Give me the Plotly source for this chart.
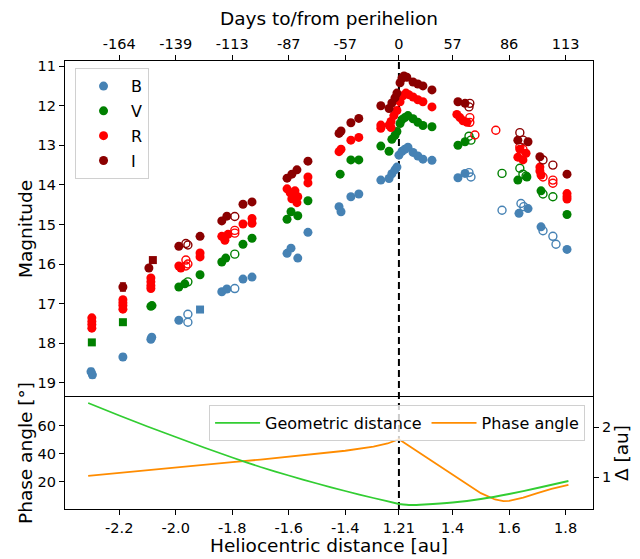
import plotly.graph_objects as go

# ---------------- data ----------------
PERI = 1.21  # perihelion distance [au]; pre-perihelion distances stored as negative values

# Photometry: r (signed heliocentric distance), magnitude, kind (f=filled, o=open, s=square), error
B_r = [-2.300, -2.295, -2.187, -2.088, -2.085, -1.989, -1.837, -1.819, -1.762, -1.730,
       -1.606, -1.592, -1.568, -1.532, -1.422, -1.415, -1.380, -1.352, -1.274, -1.245,
       -1.235, -1.224, -1.217, 1.210, 1.221, 1.231, 1.242, 1.260, 1.277, 1.295, 1.327,
       1.419, 1.444, 1.635, 1.667, 1.713, 1.805,
       -1.957, -1.957, -1.791, 1.458, 1.465, 1.575, 1.642, 1.652, 1.720, 1.755, 1.766,
       -1.914]
B_mag = [18.72, 18.80, 18.35, 17.90, 17.85, 17.42, 16.70, 16.63, 16.38, 16.33,
         15.73, 15.60, 15.85, 15.20, 14.55, 14.68, 14.30, 14.23, 13.88, 13.84,
         13.72, 13.62, 13.55, 13.25, 13.15, 13.10, 13.05, 13.18, 13.27, 13.35, 13.38,
         13.82, 13.71, 14.72, 14.60, 15.06, 15.63,
         17.27, 17.47, 16.62, 13.69, 13.80, 14.64, 14.47, 14.55, 15.16, 15.30, 15.50,
         17.15]
B_kind = ['f'] * 37 + ['o'] * 11 + ['s']
B_err = [0.08, 0.08, 0.07] + [0] * 46

V_r = [-2.297, -2.187,
       -2.088, -2.084, -1.989, -1.968, -1.914, -1.837, -1.823, -1.762, -1.730, -1.606,
       -1.592, -1.568, -1.532, -1.418, -1.380, -1.352, -1.274, -1.245, -1.235, -1.224,
       -1.217, 1.214, 1.221, 1.231, 1.242, 1.260, 1.277, 1.295, 1.327, 1.419, 1.444,
       1.631, 1.663, 1.713, 1.805,
       -1.957, -1.791, 1.458, 1.465, 1.575, 1.638, 1.649, 1.660, 1.720, 1.755]
V_mag = [17.98, 17.47,
         17.07, 17.05, 16.58, 16.50, 16.27, 15.95, 15.85, 15.50, 15.35, 14.87,
         14.68, 14.78, 14.40, 13.73, 13.37, 13.37, 13.02, 13.15, 12.85, 12.75,
         12.65, 12.45, 12.35, 12.30, 12.25, 12.33, 12.42, 12.50, 12.53, 13.00, 12.91,
         13.88, 13.80, 14.15, 14.75,
         16.45, 15.75, 12.77, 12.87, 13.71, 13.58, 13.73, 13.78, 14.23, 14.30]
V_kind = ['s'] * 2 + ['f'] * 35 + ['o'] * 10
V_err = [0.05, 0.05] + [0] * 45

R_r = [-2.297, -2.297, -2.297, -2.297, -2.187, -2.187, -2.187, -2.187, -2.088, -2.088,
       -2.088, -2.088, -1.989, -1.982, -1.914, -1.914, -1.837, -1.826, -1.815, -1.762,
       -1.730, -1.730, -1.606, -1.595, -1.578, -1.568, -1.589, -1.571, -1.532, -1.532,
       -1.422, -1.415, -1.380, -1.352, -1.274, -1.274, -1.245, -1.238, -1.238, -1.228,
       -1.217, 1.214, 1.224, 1.235, 1.245, 1.260, 1.277, 1.295, 1.327, 1.415, 1.426,
       1.437, 1.451, 1.631, 1.638, 1.649, 1.660, 1.709, 1.709, 1.713, 1.805, 1.805, 1.805,
       -1.964, -1.957, -1.964, -1.791, -1.791, 1.461, 1.461, 1.479, 1.553, 1.638, 1.649,
       1.649, 1.720, 1.755, 1.755]
R_mag = [17.36, 17.45, 17.53, 17.62, 16.90, 16.98, 17.05, 17.14, 16.35, 16.45,
         16.55, 16.62, 16.05, 16.10, 15.72, 15.82, 15.30, 15.40, 15.25, 14.99,
         14.85, 14.97, 14.10, 14.20, 14.15, 14.30, 14.35, 14.45, 13.80, 13.95,
         13.16, 13.10, 12.87, 12.80, 12.49, 12.57, 12.49, 12.55, 12.40, 12.25,
         12.12, 11.90, 11.75, 11.68, 11.72, 11.78, 11.85, 11.90, 12.03, 12.22, 12.30,
         12.38, 12.42, 13.30, 13.10, 13.37, 13.20, 13.55, 13.65, 13.75, 14.22, 14.30, 14.36,
         15.90, 16.00, 16.05, 15.15, 15.22, 12.30, 12.42, 12.74, 12.62, 13.04, 13.23,
         13.10, 13.80, 13.88, 13.96]
R_kind = ['f'] * 63 + ['o'] * 15
R_err = [0] * 78

I_r = [-2.187, -2.095, -1.989, -1.914, -1.837, -1.819, -1.762, -1.730, -1.606, -1.589,
       -1.571, -1.532, -1.422, -1.415, -1.380, -1.352, -1.274, -1.245, -1.235, -1.224,
       -1.217, 1.214, 1.221, 1.228, 1.238, 1.260, 1.277, 1.295, 1.327, 1.419, 1.444,
       1.631, 1.667, 1.709, 1.805,
       -1.964, -1.957, -1.791, 1.461, 1.458, 1.638, 1.649, 1.720, 1.755,
       -2.081]
I_mag = [16.58, 16.10, 15.55, 15.30, 14.91, 14.79, 14.49, 14.43, 13.83, 13.73,
         13.62, 13.40, 12.70, 12.64, 12.43, 12.32, 12.00, 12.07, 11.93, 11.80,
         11.68, 11.42, 11.30, 11.25, 11.28, 11.40, 11.45, 11.50, 11.60, 11.90, 11.94,
         12.87, 12.91, 13.29, 13.73,
         15.48, 15.52, 14.80, 11.94, 12.03, 12.68, 12.87, 13.37, 13.50,
         15.90]
I_kind = ['f'] * 35 + ['o'] * 9 + ['s']
I_err = [0.10] + [0] * 43 + [0.06]

# Observing geometry along the orbit
geom_r = [-2.31, -2.2, -2.1, -2.0, -1.9, -1.8, -1.7, -1.6, -1.5, -1.4, -1.3, -1.21,
          1.21, 1.25, 1.3, 1.4, 1.5, 1.6, 1.7, 1.81]
delta_au = [2.48, 2.23, 2.01, 1.80, 1.59, 1.39, 1.20, 1.03, 0.87, 0.72, 0.58, 0.46,
            0.46, 0.44, 0.45, 0.49, 0.56, 0.66, 0.78, 0.92]
phase_r = [-2.31, -2.2, -2.1, -2.0, -1.9, -1.8, -1.7, -1.6, -1.5, -1.4, -1.3, -1.25, -1.21,
           1.21, 1.3, 1.4, 1.5, 1.55, 1.58, 1.6, 1.65, 1.7, 1.75, 1.81]
phase_deg = [24.3, 26.5, 28.6, 30.5, 32.3, 34.2, 36.0, 38.0, 40.0, 42.3, 45.3, 47.5, 50.5,
             50.5, 38.6, 25.2, 12.0, 7.5, 6.3, 6.5, 8.8, 12.0, 15.0, 18.0]

dist_tick_r = [-2.2, -2.0, -1.8, -1.6, -1.4, 1.21, 1.4, 1.6, 1.8]
dist_tick_text = ['-2.2', '-2.0', '-1.8', '-1.6', '-1.4', '1.21', '1.4', '1.6', '1.8']
days_tick_text = ['-164', '-139', '-113', '-87', '-57', '0', '57', '86', '113']

# ---------------- helpers ----------------
def to_axis(r):
    """Broken-axis coordinate: distance from perihelion, signed."""
    return r + PERI if r < 0 else r - PERI

FONT = "DejaVu Sans"
bands = [
    ("B", B_r, B_mag, B_kind, B_err, "#4682B4"),
    ("V", V_r, V_mag, V_kind, V_err, "#008000"),
    ("R", R_r, R_mag, R_kind, R_err, "#FF0000"),
    ("I", I_r, I_mag, I_kind, I_err, "#8B0000"),
]

fig = go.Figure()

for name, rr, mm, kk, ee, col in bands:
    for kind in ["o", "s", "f"]:
        idx = [i for i, k in enumerate(kk) if k == kind]
        if not idx:
            continue
        xs = [to_axis(rr[i]) for i in idx]
        ys = [mm[i] for i in idx]
        es = [ee[i] for i in idx]
        if kind == "f":
            marker = dict(symbol="circle", size=9, color=col, line=dict(width=0))
        elif kind == "o":
            marker = dict(symbol="circle-open", size=8, color=col, line=dict(width=1.4))
        else:
            marker = dict(symbol="square", size=8, color=col, line=dict(width=0))
        err = None
        if any(e > 0 for e in es):
            err = dict(type="data", array=es, color=col, thickness=1.5, width=3)
        fig.add_trace(go.Scatter(
            x=xs, y=ys, mode="markers", marker=marker, error_y=err,
            name=name, legendgroup=name, showlegend=(kind == "f"),
            xaxis="x", yaxis="y", legend="legend", hoverinfo="skip"))

# dummy trace to carry the top (days) axis
fig.add_trace(go.Scatter(x=[to_axis(r) for r in dist_tick_r], y=[None] * len(dist_tick_r),
                         xaxis="x3", yaxis="y", showlegend=False, hoverinfo="skip"))

fig.add_trace(go.Scatter(x=[to_axis(r) for r in geom_r], y=delta_au, mode="lines",
                         line=dict(color="#32CD32", width=1.8, shape="spline", smoothing=0.4),
                         name="Geometric distance",
                         xaxis="x2", yaxis="y3", legend="legend2", hoverinfo="skip"))
fig.add_trace(go.Scatter(x=[to_axis(r) for r in phase_r], y=phase_deg, mode="lines",
                         line=dict(color="#FF8C00", width=1.8), name="Phase angle",
                         xaxis="x2", yaxis="y2", legend="legend2", hoverinfo="skip"))

xr = [-1.182, 0.687]
tickpos = [to_axis(r) for r in dist_tick_r]
axis_common = dict(showline=True, linecolor="black", linewidth=1.2, ticks="outside",
                   ticklen=5, tickwidth=1.1, tickcolor="black", showgrid=False,
                   zeroline=False, automargin=False,
                   tickfont=dict(family=FONT, size=14.5, color="black"))
title_font = dict(family=FONT, size=18.5, color="black")

split = 0.25
fig.update_layout(
    width=632, height=551,
    margin=dict(l=57, r=47, t=53, b=50),
    paper_bgcolor="white", plot_bgcolor="white",
    font=dict(family=FONT, color="black"),
    xaxis=dict(domain=[0, 1], anchor="y", range=xr, showline=False, showticklabels=False,
               ticks="", showgrid=False, zeroline=False, automargin=False),
    xaxis3=dict(axis_common, overlaying="x", side="top", anchor="y", range=xr,
                tickvals=tickpos, ticktext=days_tick_text,
                title=dict(text="Days to/from perihelion", font=title_font, standoff=9)),
    xaxis2=dict(axis_common, domain=[0, 1], anchor="y2", range=xr, mirror=True,
                tickvals=tickpos, ticktext=dist_tick_text,
                title=dict(text="Heliocentric distance [au]", font=title_font, standoff=4)),
    yaxis=dict(axis_common, domain=[split, 1], anchor="x", range=[19.36, 10.87],
               tickvals=list(range(11, 20)), mirror=True,
               title=dict(text="Magnitude", font=title_font, standoff=0)),
    yaxis2=dict(axis_common, domain=[0, split], anchor="x2", range=[0.7, 80.7],
                tickvals=[20, 40, 60],
                title=dict(text="Phase angle [°]", font=title_font, standoff=0)),
    yaxis3=dict(axis_common, domain=[0, split], anchor="x2", overlaying="y2", side="right",
                range=[0.36, 2.6], tickvals=[1, 2],
                title=dict(text="Δ [au]", font=title_font, standoff=4)),
    legend=dict(x=0.019, y=0.984, xanchor="left", yanchor="top",
                bgcolor="rgba(255,255,255,0.8)", bordercolor="#d0d0d0", borderwidth=1,
                font=dict(family=FONT, size=16, color="black"), itemwidth=45,
                tracegroupgap=1),
    legend2=dict(x=0.985, y=0.232, xanchor="right", yanchor="top", orientation="h",
                 bgcolor="rgba(255,255,255,0.8)", bordercolor="#d0d0d0", borderwidth=1,
                 itemwidth=45,
                 font=dict(family=FONT, size=16, color="black")),
    shapes=[dict(type="line", xref="x2", yref="paper", x0=0, x1=0, y0=0, y1=1,
                 line=dict(color="black", width=2, dash="7px,4px"), layer="below")],
)

fig.write_html("out.html")
